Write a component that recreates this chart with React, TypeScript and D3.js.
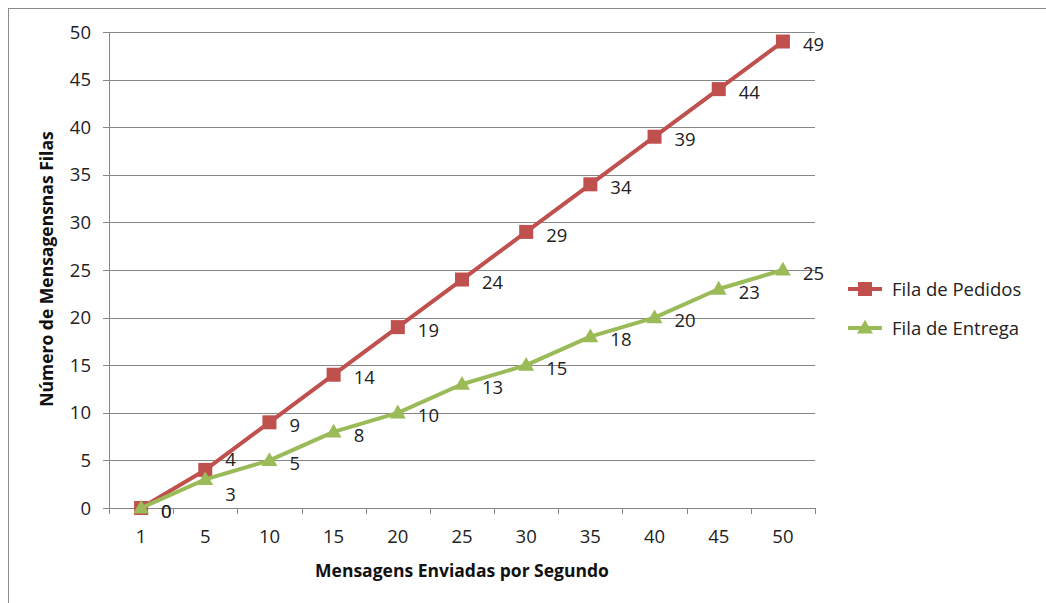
import React from "react";
import * as d3 from "d3";

const categories = ["1", "5", "10", "15", "20", "25", "30", "35", "40", "45", "50"];
const filaPedidos = [0, 4, 9, 14, 19, 24, 29, 34, 39, 44, 49];
const filaEntrega = [0, 3, 5, 8, 10, 13, 15, 18, 20, 23, 25];
const yTicks = [0, 5, 10, 15, 20, 25, 30, 35, 40, 45, 50];

const series = [
  { name: "Fila de Pedidos", values: filaPedidos, color: "#C0504D", marker: "square" },
  { name: "Fila de Entrega", values: filaEntrega, color: "#9BBB59", marker: "triangle" },
];

const FONT = "'Open Sans', sans-serif";
const FS = 18.5;

export default function App() {
  const W = 1046, H = 603;
  const left = 109, right = 815, top = 32, bottom = 508;
  const x = d3.scaleBand<string>().domain(categories).range([left, right]);
  const y = d3.scaleLinear().domain([0, 50]).range([bottom, top]);
  const cx = (c: string) => (x(c) ?? 0) + x.bandwidth() / 2;
  const line = d3.line<number>().x((_, i) => cx(categories[i])).y((v) => y(v));
  const tri = d3.symbol().type(d3.symbolTriangle).size(110)() as string;

  const marker = (kind: string, color: string, px: number, py: number, key?: string) =>
    kind === "square" ? (
      <rect key={key} x={px - 7} y={py - 7} width={14} height={14} fill={color} />
    ) : (
      <path key={key} d={tri} transform={`translate(${px},${py + 1})`} fill={color} />
    );

  const ticksX = categories.map((c) => x(c) ?? 0).concat([right]);

  // simple collision avoidance between the two series' labels
  const labelY = (si: number, i: number) => {
    const a = y(series[0].values[i]);
    const b = y(series[1].values[i]);
    const d = Math.abs(a - b);
    const base = y(series[si].values[i]);
    if (d > 0 && d < 18) return si === 0 ? base - 11 : base + 15;
    return base + 3;
  };

  return (
    <svg width={W} height={H} style={{ position: "absolute", left: 0, top: 0 }}>
      <rect x={0} y={0} width={W} height={H} fill="#fff" />
      <rect x={8.5} y={8.5} width={W + 10} height={H + 10} fill="none" stroke="#8a8a8a" strokeWidth={1} />
      {/* gridlines */}
      {yTicks.map((t) => (
        <g key={t}>
          <line x1={left - 6} x2={right} y1={Math.round(y(t)) + 0.5} y2={Math.round(y(t)) + 0.5} stroke="#868686" strokeWidth={1} />
          <text x={left - 18} y={y(t)} dy="0.36em" textAnchor="end" fontFamily={FONT} fontSize={FS} fill="#222">{t}</text>
        </g>
      ))}
      {/* y axis */}
      <line x1={left + 0.5} x2={left + 0.5} y1={top} y2={bottom} stroke="#868686" />
      {/* x axis ticks */}
      {ticksX.map((tx, i) => (
        <line key={i} x1={Math.round(tx) + 0.5} x2={Math.round(tx) + 0.5} y1={bottom} y2={bottom + 6} stroke="#868686" />
      ))}
      {categories.map((c) => (
        <text key={c} x={cx(c)} y={bottom + 35} textAnchor="middle" fontFamily={FONT} fontSize={FS} fill="#222">{c}</text>
      ))}
      {/* axis titles */}
      <text x={462} y={577} textAnchor="middle" fontFamily={FONT} fontSize={17.5} fontWeight="bold" fill="#111">Mensagens Enviadas  por Segundo</text>
      <text transform={`translate(53,${269}) rotate(-90)`} textAnchor="middle" fontFamily={FONT} fontSize={17.5} fontWeight="bold" fill="#111">Número de Mensagensnas  Filas</text>
      {/* series */}
      {series.map((s, si) => (
        <g key={s.name}>
          <path d={line(s.values) ?? ""} fill="none" stroke={s.color} strokeWidth={4} strokeLinejoin="round" />
          {s.values.map((v, i) => marker(s.marker, s.color, cx(categories[i]), y(v), `${s.name}${i}`))}
          {s.values.map((v, i) => (
            <text key={`l${i}`} x={cx(categories[i]) + 20} y={labelY(si, i)} dy="0.36em" fontFamily={FONT} fontSize={FS} fill="#222">{v}</text>
          ))}
        </g>
      ))}
      {/* legend */}
      {series.map((s, i) => {
        const ly = 289 + i * 39;
        return (
          <g key={s.name}>
            <line x1={848} x2={882} y1={ly} y2={ly} stroke={s.color} strokeWidth={4} />
            {marker(s.marker, s.color, 865, ly)}
            <text x={892} y={ly} dy="0.36em" fontFamily={FONT} fontSize={FS} fill="#222">{s.name}</text>
          </g>
        );
      })}
    </svg>
  );
}
